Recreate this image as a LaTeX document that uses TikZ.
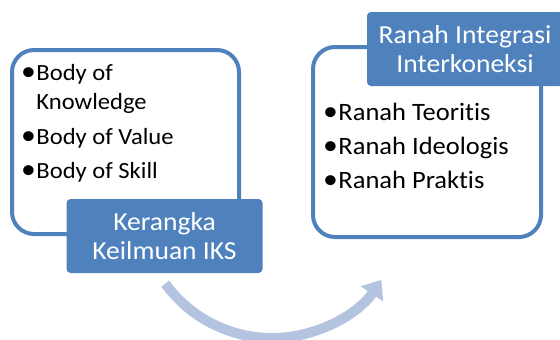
\documentclass[tikz,border=0pt]{standalone}
\usepackage{fontspec}
\setmainfont{Carlito}[FakeStretch=1.06, Ligatures=NoCommon]
\usetikzlibrary{arrows.meta,positioning}

\definecolor{accent}{HTML}{4F81BD}
\definecolor{accentlight}{HTML}{B4C4E0}

% a slightly heavier list dot
\newcommand{\listdot}{\raisebox{-0.6pt}{\fontsize{28}{28}\selectfont•}\kern0.5pt}

\begin{document}
\begin{tikzpicture}[
    x=1pt,
    y=-1pt,
    panel/.style={
        rectangle,
        draw=accent,
        line width=4pt,
        rounded corners=22pt,
        fill=white
    },
    tag/.style={
        rectangle,
        fill=accent,
        rounded corners=4pt,
        minimum width=196pt,
        minimum height=74pt,
        align=center,
        text=white,
        font=\fontsize{26}{29}\selectfont
    },
    entry/.style={
        anchor=base west,
        inner sep=0pt,
        font=\fontsize{25}{28}\selectfont
    },
    smallentry/.style={
        entry,
        font=\fontsize{23.2}{28}\selectfont
    },
    flow/.style={
        draw=accentlight,
        line width=10pt,
        -{Triangle[width=26pt,length=17pt]}
    }
]
    \useasboundingbox (0,0) rectangle (560,340);

    % Panels
    \node[panel, minimum width=227pt, minimum height=184pt] (body) at (125.5,142) {};
    \node[panel, minimum width=228pt, minimum height=190pt] (domain) at (427,142) {};

    % Left list
    \node[smallentry] (knowledge) at (21,80) {\listdot Body of};
    \node[smallentry] (knowledge2) at (21,109) {\phantom{\listdot}Knowledge};
    \node[smallentry] (value) at (21,144) {\listdot Body of Value};
    \node[smallentry] (skill) at (21,178) {\listdot Body of Skill};

    % Right list
    \node[entry] (teoritis) at (323,120) {\listdot Ranah Teoritis};
    \node[entry] (ideologis) at (323,154) {\listdot Ranah Ideologis};
    \node[entry] (praktis) at (323,188) {\listdot Ranah Praktis};

    % Titles
    \node[tag] (kerangka) at (164.5,236) {Kerangka\\Keilmuan IKS};
    \node[tag] (ranah) at (465,49) {Ranah Integrasi\\Interkoneksi};

    % Curved arrow underneath
    \coordinate (turn) at (272,206);
    \draw[flow] (turn) ++(144:132) arc[start angle=144, end angle=34, radius=132];

\end{tikzpicture}
\end{document}
